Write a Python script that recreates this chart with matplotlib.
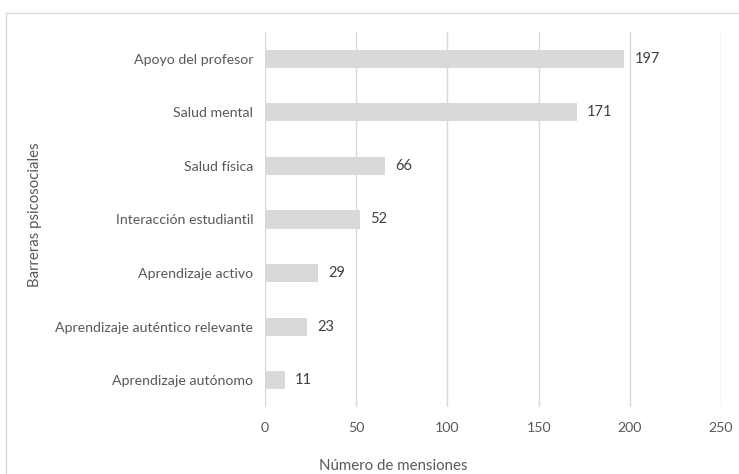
import matplotlib
matplotlib.use("Agg")
import matplotlib.pyplot as plt
from matplotlib.lines import Line2D

categories = ["Apoyo del profesor", "Salud mental", "Salud física", "Interacción estudiantil",
              "Aprendizaje activo", "Aprendizaje auténtico relevante", "Aprendizaje autónomo"]
values = [197, 171, 66, 52, 29, 23, 11]
xticks = [0, 50, 100, 150, 200, 250]

plt.rcParams['font.family'] = ['Lato', 'DejaVu Sans']
txt = '#595959'
grid = '#d9d9d9'

fig = plt.figure(figsize=(7.39, 4.74), dpi=100)
ax = fig.add_axes([265/739, 1-407/474, (721-265)/739, (407-32)/474])

ypos = list(range(len(categories)))[::-1]
ax.barh(ypos, values, height=0.34, color='#d9d9d9', zorder=2)
for y, v in zip(ypos, values):
    ax.text(v + 5.5, y, str(v), va='center', ha='left', fontsize=10.5, color='#404040')

ax.set_xlim(0, 250)
ax.set_ylim(-0.5, len(categories) - 0.5)
ax.set_xticks(xticks)
ax.set_xticklabels([str(t) for t in xticks], fontsize=10.2, color=txt)
ax.set_yticks(ypos)
ax.set_yticklabels(categories, fontsize=10.2, color=txt)
ax.tick_params(axis='x', length=0, pad=10.5)
ax.tick_params(axis='y', length=0, pad=8.5)
ax.xaxis.grid(True, color=grid, linewidth=1, zorder=0)
for s in ax.spines.values():
    s.set_visible(False)

fig.text(393/739, 1-466/474, "Número de mensiones", ha='center', va='center', fontsize=10.8, color=txt)
fig.text(35/739, 1-215/474, "Barreras psicosociales", ha='center', va='center', rotation=90, fontsize=10.8, color=txt)

# outer frame (left and top edges visible)
fig.add_artist(Line2D([6/739, 6/739], [0, 1-13/474], transform=fig.transFigure, color=grid, linewidth=1))
fig.add_artist(Line2D([6/739, 1], [1-13/474, 1-13/474], transform=fig.transFigure, color=grid, linewidth=1))

fig.savefig("out.png", dpi=100)
